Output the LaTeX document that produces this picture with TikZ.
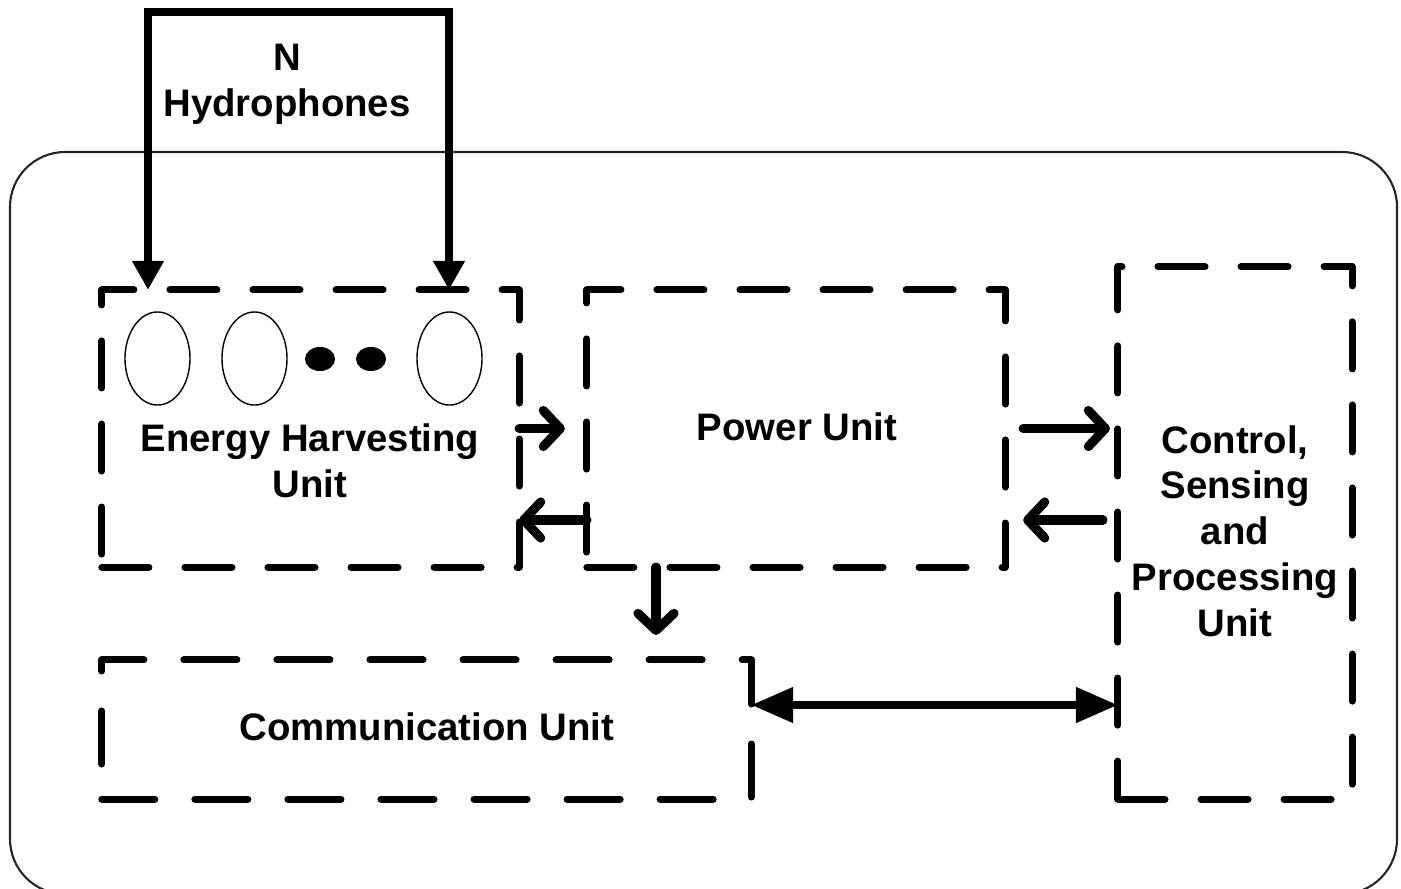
\documentclass[tikz,border=0pt]{standalone}
\usepackage{fontspec}
\setmainfont{Liberation Sans}
\usetikzlibrary{arrows.meta,shapes.geometric}

\tikzset{
  unitbox/.style={draw, line width=2pt, line cap=round, line join=round,
    dash pattern=on 0.47cm off 0.36cm, inner sep=0pt, outer sep=0pt},
  lbl/.style={align=center, inner sep=0pt},
  phone/.style={draw, ellipse, line width=0.4pt, inner sep=0pt,
    minimum width=0.65cm, minimum height=0.93cm},
  dot/.style={fill, ellipse, inner sep=0pt, minimum width=0.3cm, minimum height=0.24cm},
  feed/.style={line width=2.3pt, line join=miter, {Triangle[length=0.29cm,width=0.3cm]}-{Triangle[length=0.29cm,width=0.3cm]}},
  barb/.style={line width=2.6pt, line cap=round, -{Straight Barb[length=0.17cm,width=0.36cm,round]}},
  dblarrow/.style={line width=2.2pt, {Triangle[length=0.42cm,width=0.34cm]}-{Triangle[length=0.42cm,width=0.34cm]}}
}

\begin{document}
\begin{tikzpicture}[x=0.01cm, y=-0.01cm, font=\fontsize{10.9}{13}\selectfont\bfseries]
\useasboundingbox (0,0) rectangle (1401,888);
% outer housing
\draw[line width=0.6pt, black!85, rounded corners=0.55cm] (10,152) rectangle (1397,894);

% units
\node (eh) [unitbox, minimum width=4.17cm, minimum height=2.77cm] at (310.5,428.5) {};
\node (pu) [unitbox, minimum width=4.18cm, minimum height=2.77cm] at (796,428.5) {};
\node (csp) [unitbox, minimum width=2.34cm, minimum height=5.32cm] at (1235,533) {};
\node (comm) [unitbox, dash pattern=on 0.53cm off 0.4cm, minimum width=6.49cm, minimum height=1.39cm] at (426.5,729.5) {};

\node (ehlbl) [lbl] at (310,461) {Energy Harvesting\\Unit};
\node (pulbl) [lbl] at (797,427) {Power Unit};
\node (csplbl) [lbl] at (1235,531) {Control,\\Sensing\\and\\Processing\\Unit};
\node (commlbl) [lbl] at (427,727) {Communication Unit};
\node (hydlbl) [lbl] at (287,84) {N\\Hydrophones};

% hydrophones
\node (h1) [phone] at (157.5,358.5) {};
\node (h2) [phone] at (254.5,358.5) {};
\node (hn) [phone] at (449.5,358.5) {};
\node (d1) [dot] at (320,359) {};
\node (d2) [dot] at (371,359) {};

\coordinate (hl) at (148,12);
\coordinate (hr) at (449,12);
\draw[feed] (eh.north -| hl) -- (hl) -- (hr) -- (eh.north -| hr);

% links
\draw[barb] (eh.east) -- ([xshift=-0.22cm]pu.west);
\draw[barb] (pu.west |- 0,520) -- (eh.east |- 0,520);
\draw[barb] ([xshift=0.18cm]pu.east) -- ([xshift=-0.08cm]pu.east -| csp.west);
\draw[barb] ([xshift=-0.15cm]csp.west |- 0,520) -- ([xshift=0.18cm]pu.east |- 0,520);
\draw[barb] (pu.south -| 656,0) -- ([yshift=0.25cm]comm.north -| 656,0);
\draw[dblarrow] (comm.east |- 0,705) -- (csp.west |- 0,705);
\end{tikzpicture}
\end{document}
